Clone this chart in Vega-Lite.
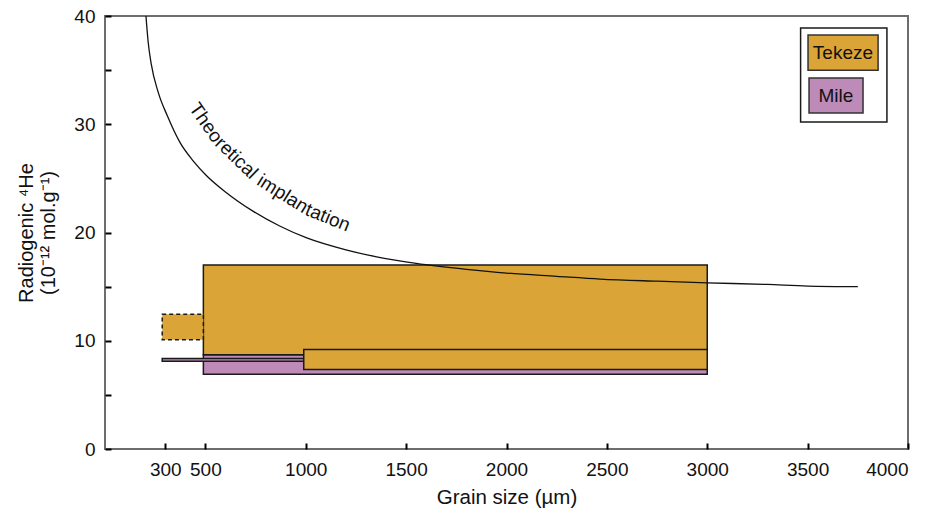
{
  "$schema": "https://vega.github.io/schema/vega-lite/v6.json",
  "width": 803,
  "height": 433,
  "autosize": {"type": "none"},
  "padding": {"left": 105, "top": 16, "right": 19, "bottom": 64},
  "background": "white",
  "config": {
    "view": {"stroke": "#6d6d6d", "strokeWidth": 2},
    "font": "Liberation Sans",
    "axis": {
      "grid": false,
      "domain": false,
      "offset": -6,
      "tickColor": "#000000",
      "tickWidth": 2,
      "tickSize": 6,
      "labelColor": "#111111",
      "labelFont": "Liberation Sans",
      "labelFontSize": 19,
      "titleFont": "Liberation Sans",
      "titleFontWeight": "normal",
      "titleColor": "#111111"
    }
  },
  "datasets": {
    "boxes": [
      {"series": "Mile", "x": 490, "x2": 3000, "y": 6.9, "y2": 8.7},
      {"series": "Mile", "x": 285, "x2": 990, "y": 8.1, "y2": 8.35},
      {"series": "Tekeze", "x": 490, "x2": 3000, "y": 8.7, "y2": 17.0},
      {"series": "Tekeze", "x": 990, "x2": 3000, "y": 7.35, "y2": 9.2}
    ],
    "dashed": [
      {"series": "Tekeze", "x": 285, "x2": 490, "y": 10.1, "y2": 12.45}
    ],
    "curve": [
      {"grain": 204, "he": 40.0},
      {"grain": 215, "he": 37.6},
      {"grain": 230, "he": 35.6},
      {"grain": 266, "he": 32.9},
      {"grain": 310, "he": 30.8},
      {"grain": 374, "he": 28.3},
      {"grain": 440, "he": 26.6},
      {"grain": 506, "he": 25.25},
      {"grain": 600, "he": 23.75},
      {"grain": 739, "he": 21.95},
      {"grain": 870, "he": 20.6},
      {"grain": 1005, "he": 19.5},
      {"grain": 1200, "he": 18.4},
      {"grain": 1353, "he": 17.75},
      {"grain": 1550, "he": 17.15},
      {"grain": 1800, "he": 16.6},
      {"grain": 2000, "he": 16.25},
      {"grain": 2250, "he": 15.95},
      {"grain": 2466, "he": 15.7},
      {"grain": 2750, "he": 15.5},
      {"grain": 3000, "he": 15.35},
      {"grain": 3300, "he": 15.2},
      {"grain": 3500, "he": 15.05},
      {"grain": 3750, "he": 15.0}
    ],
    "curveLabel": [
      {"part": 1, "text": "Theo", "x": 502, "y": 30.15},
      {"part": 2, "text": "retical", "x": 655, "y": 26.88},
      {"part": 3, "text": "implan", "x": 885, "y": 23.58},
      {"part": 4, "text": "tation", "x": 1110, "y": 21.38}
    ],
    "legendBox": [
      {"x": 3465, "x2": 3895, "y": 30.2, "y2": 38.9}
    ],
    "legendItems": [
      {"series": "Tekeze", "x": 3502, "x2": 3851, "y": 35.0, "y2": 38.24, "xc": 3676, "yc": 36.6},
      {"series": "Mile", "x": 3507, "x2": 3776, "y": 31.04, "y2": 34.27, "xc": 3641, "yc": 32.65}
    ]
  },
  "layer": [
    {
      "data": {"name": "boxes"},
      "mark": {"type": "rect", "stroke": "#1a1a1a", "strokeWidth": 1.5},
      "encoding": {
        "x": {
          "field": "x", "type": "quantitative",
          "scale": {"domain": [0, 4000], "nice": false},
          "axis": {
            "values": [300, 500, 1000, 1500, 2000, 2500, 3000, 3500, 4000],
            "format": "d",
            "labelPadding": 11,
            "title": "Grain size (µm)",
            "titleFontSize": 20.5,
            "titlePadding": 8
          }
        },
        "x2": {"field": "x2"},
        "y": {
          "field": "y", "type": "quantitative",
          "scale": {"domain": [0, 40], "nice": false},
          "axis": {
            "values": [0, 5, 10, 15, 20, 25, 30, 35, 40],
            "labelExpr": "datum.value % 10 == 0 ? datum.label : ''",
            "labelPadding": 10,
            "title": ["Radiogenic ⁴He", "(10⁻¹² mol.g⁻¹)"],
            "titleFontSize": 20,
            "titlePadding": 15,
            "titleLineHeight": 22
          }
        },
        "y2": {"field": "y2"},
        "fill": {
          "field": "series", "type": "nominal",
          "scale": {"domain": ["Tekeze", "Mile"], "range": ["#DAA536", "#BE8AB8"]},
          "legend": null
        }
      }
    },
    {
      "data": {"name": "dashed"},
      "mark": {"type": "rect", "stroke": "#1a1a1a", "strokeWidth": 1.5, "strokeDash": [4, 3]},
      "encoding": {
        "x": {"field": "x", "type": "quantitative"},
        "x2": {"field": "x2"},
        "y": {"field": "y", "type": "quantitative"},
        "y2": {"field": "y2"},
        "fill": {"field": "series", "type": "nominal", "legend": null}
      }
    },
    {
      "data": {"name": "curve"},
      "mark": {"type": "line", "color": "#111111", "strokeWidth": 1.3, "interpolate": "monotone"},
      "encoding": {
        "x": {"field": "grain", "type": "quantitative"},
        "y": {"field": "he", "type": "quantitative"}
      }
    },
    {
      "data": {"name": "curveLabel"},
      "transform": [{"filter": "datum.part == 1"}],
      "mark": {"type": "text", "angle": 55, "fontSize": 19, "color": "#111111", "align": "center", "baseline": "middle"},
      "encoding": {
        "x": {"field": "x", "type": "quantitative"},
        "y": {"field": "y", "type": "quantitative"},
        "text": {"field": "text"}
      }
    },
    {
      "data": {"name": "curveLabel"},
      "transform": [{"filter": "datum.part == 2"}],
      "mark": {"type": "text", "angle": 44, "fontSize": 19, "color": "#111111", "align": "center", "baseline": "middle"},
      "encoding": {
        "x": {"field": "x", "type": "quantitative"},
        "y": {"field": "y", "type": "quantitative"},
        "text": {"field": "text"}
      }
    },
    {
      "data": {"name": "curveLabel"},
      "transform": [{"filter": "datum.part == 3"}],
      "mark": {"type": "text", "angle": 32, "fontSize": 19, "color": "#111111", "align": "center", "baseline": "middle"},
      "encoding": {
        "x": {"field": "x", "type": "quantitative"},
        "y": {"field": "y", "type": "quantitative"},
        "text": {"field": "text"}
      }
    },
    {
      "data": {"name": "curveLabel"},
      "transform": [{"filter": "datum.part == 4"}],
      "mark": {"type": "text", "angle": 22, "fontSize": 19, "color": "#111111", "align": "center", "baseline": "middle"},
      "encoding": {
        "x": {"field": "x", "type": "quantitative"},
        "y": {"field": "y", "type": "quantitative"},
        "text": {"field": "text"}
      }
    },
    {
      "data": {"name": "legendBox"},
      "mark": {"type": "rect", "fill": "white", "stroke": "#1a1a1a", "strokeWidth": 1.5},
      "encoding": {
        "x": {"field": "x", "type": "quantitative"},
        "x2": {"field": "x2"},
        "y": {"field": "y", "type": "quantitative"},
        "y2": {"field": "y2"}
      }
    },
    {
      "data": {"name": "legendItems"},
      "mark": {"type": "rect", "stroke": "#333333", "strokeWidth": 1.5},
      "encoding": {
        "x": {"field": "x", "type": "quantitative"},
        "x2": {"field": "x2"},
        "y": {"field": "y", "type": "quantitative"},
        "y2": {"field": "y2"},
        "fill": {"field": "series", "type": "nominal", "legend": null}
      }
    },
    {
      "data": {"name": "legendItems"},
      "mark": {"type": "text", "fontSize": 19, "color": "#111111", "align": "center", "baseline": "middle"},
      "encoding": {
        "x": {"field": "xc", "type": "quantitative"},
        "y": {"field": "yc", "type": "quantitative"},
        "text": {"field": "series"}
      }
    }
  ]
}
